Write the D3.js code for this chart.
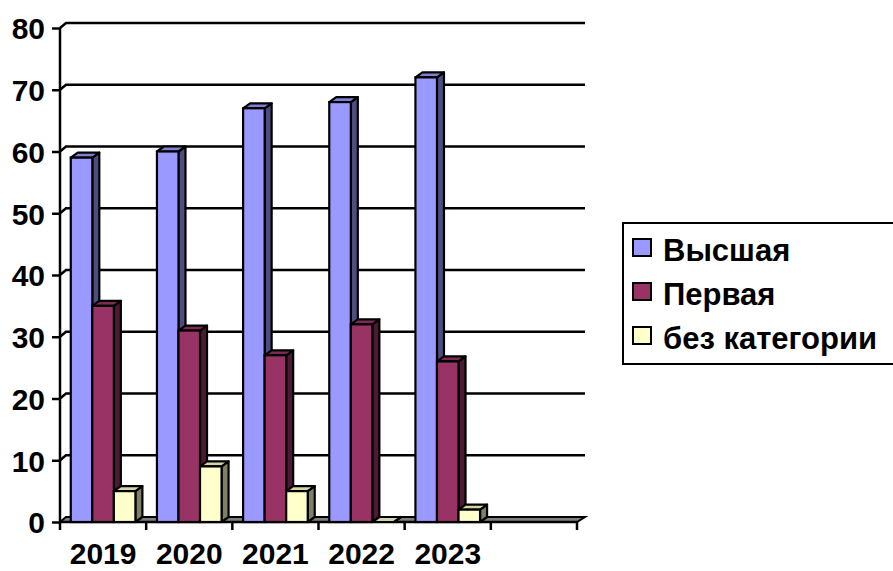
<!DOCTYPE html>
<html>
<head>
<meta charset="utf-8">
<script src="https://cdn.jsdelivr.net/npm/d3@7"></script>
<style>
  html, body { margin:0; padding:0; background:#fff; }
  svg text { font-family: "Liberation Sans", Arial, sans-serif; font-weight: bold; fill:#000; }
</style>
</head>
<body>
<div id="chart"></div>
<script>
// data
const years = ['2019','2020','2021','2022','2023',''];
const seriesNames = ['Высшая','Первая','без категории'];
const highest = [59, 60, 67, 68, 72];
const first = [35, 31, 27, 32, 26];
const noCategory = [5, 9, 5, 0, 2];
const yTicks = [0,10,20,30,40,50,60,70,80];
const colors = ['#9999FF','#993366','#FFFFCC'];

const W = 893, H = 571;
const depth = {dx:7, dy:-5};   // bar depth
const wall = {dx:6, dy:-5};    // back wall offset

const svg = d3.select('#chart').append('svg')
	.attr('width',W)
	.attr('height',H);

const x = d3.scaleBand().domain(years).range([60,577]).padding(0);
const xIn = d3.scaleBand().domain(seriesNames).range([0,x.bandwidth()]).paddingOuter(0.5).paddingInner(0);
const y = d3.scaleLinear().domain([0,80]).range([522,28]);

const values = [highest, first, noCategory];
const rows = [];
years.forEach((yr,i) => {
	seriesNames.forEach((s,j) => {
		if (values[j][i] !== undefined) rows.push({year:yr, series:s, value:values[j][i], color:colors[j]});
	});
});

// gridlines on the back wall, with the diagonal from the front axis
const grid = svg.append('g').attr('class','grid');
yTicks.filter(t => t > 0).forEach(t => {
	const yf = y(t);
	grid.append('path')
		.attr('d', `M60,${yf}L${60+wall.dx},${yf+wall.dy}L585,${yf+wall.dy}`)
		.attr('fill','none')
		.attr('stroke','#000')
		.attr('stroke-width',2.5);
});

// floor
const x0 = x.range()[0], x1 = x.range()[1], yz = y(0);
svg.append('path')
	.attr('d', `M${x0},${yz}L${x1},${yz}L${x1+wall.dx+2},${yz+wall.dy}L${x0+wall.dx},${yz+wall.dy}Z`)
	.attr('fill','#808080')
	.attr('stroke','#000')
	.attr('stroke-width',2);

// y axis
const yAxis = svg.append('g')
	.attr('transform','translate(60,0)')
	.call(d3.axisLeft(y).tickValues(yTicks).tickSize(8).tickPadding(6));
yAxis.select('.domain').attr('stroke','#000').attr('stroke-width',2.5).attr('d',`M0,${y(80)}V${y(0)}`);
yAxis.selectAll('.tick line').attr('stroke','#000').attr('stroke-width',2.5);
yAxis.selectAll('.tick text')
	.style('font-size','30px')
	.style('font-family','"Liberation Sans", Arial, sans-serif')
	.style('font-weight','bold')
	.attr('fill','#000')
	.attr('x',-15)
	.attr('dy','0.36em');

// x axis
const xAxis = svg.append('g')
	.attr('transform',`translate(0,${yz})`)
	.call(d3.axisBottom(x).tickSize(0).tickPadding(12));
xAxis.select('.domain').remove();
xAxis.append('path')
	.attr('d',`M${x0},0H${x1}`)
	.attr('stroke','#000')
	.attr('stroke-width',2.5);
x.domain().concat(['__end']).forEach((d,i) => {
	const xp = i < years.length ? x(d) : x1;
	xAxis.append('line')
		.attr('x1',xp).attr('x2',xp)
		.attr('y1',0).attr('y2',8)
		.attr('stroke','#000')
		.attr('stroke-width',2.5);
});
xAxis.selectAll('.tick text')
	.style('font-size','30px')
	.style('font-family','"Liberation Sans", Arial, sans-serif')
	.style('font-weight','bold')
	.attr('fill','#000')
	.attr('dy',0)
	.attr('y',42);

// 3d bars
const bars = svg.append('g').attr('class','bars')
	.selectAll('g.bar')
	.data(rows)
	.join('g')
	.attr('class','bar');

bars.each(function(d){
	const g = d3.select(this);
	const bx = x(d.year) + xIn(d.series);
	const bw = xIn.bandwidth();
	const top = y(d.value), bot = y(0);
	const c = d3.rgb(d.color);
	const sideC = d3.rgb(c.r*0.5, c.g*0.5, c.b*0.5);
	const topC = d3.rgb(c.r*0.83, c.g*0.83, c.b*0.83);
	// side
	g.append('path')
		.attr('d',`M${bx+bw},${bot}L${bx+bw+depth.dx},${bot+depth.dy}L${bx+bw+depth.dx},${top+depth.dy}L${bx+bw},${top}Z`)
		.attr('fill',sideC)
		.attr('stroke','#000')
		.attr('stroke-width',2.2)
		.attr('stroke-linejoin','round');
	// top
	g.append('path')
		.attr('d',`M${bx},${top}L${bx+depth.dx},${top+depth.dy}L${bx+bw+depth.dx},${top+depth.dy}L${bx+bw},${top}Z`)
		.attr('fill',topC)
		.attr('stroke','#000')
		.attr('stroke-width',2.2)
		.attr('stroke-linejoin','round');
	// front
	if (d.value > 0) {
		g.append('rect')
			.attr('x',bx)
			.attr('y',top)
			.attr('width',bw)
			.attr('height',bot-top)
			.attr('fill',c)
			.attr('stroke','#000')
			.attr('stroke-width',2.2);
	}
});

// legend
const legend = svg.append('g').attr('class','legend');
legend.append('rect')
	.attr('x',623).attr('y',223)
	.attr('width',290).attr('height',141)
	.attr('fill','#fff')
	.attr('stroke','#000')
	.attr('stroke-width',2);

const items = legend.selectAll('g.item')
	.data(seriesNames)
	.join('g')
	.attr('class','item')
	.attr('transform',(d,i) => `translate(633,${239 + i*44})`);

items.append('rect')
	.attr('width',18).attr('height',17)
	.attr('fill',(d,i) => colors[i])
	.attr('stroke','#000')
	.attr('stroke-width',2);

items.append('text')
	.attr('x',30)
	.attr('y',22)
	.style('font-size','31px')
	.text(d => d);
</script>
</body>
</html>
